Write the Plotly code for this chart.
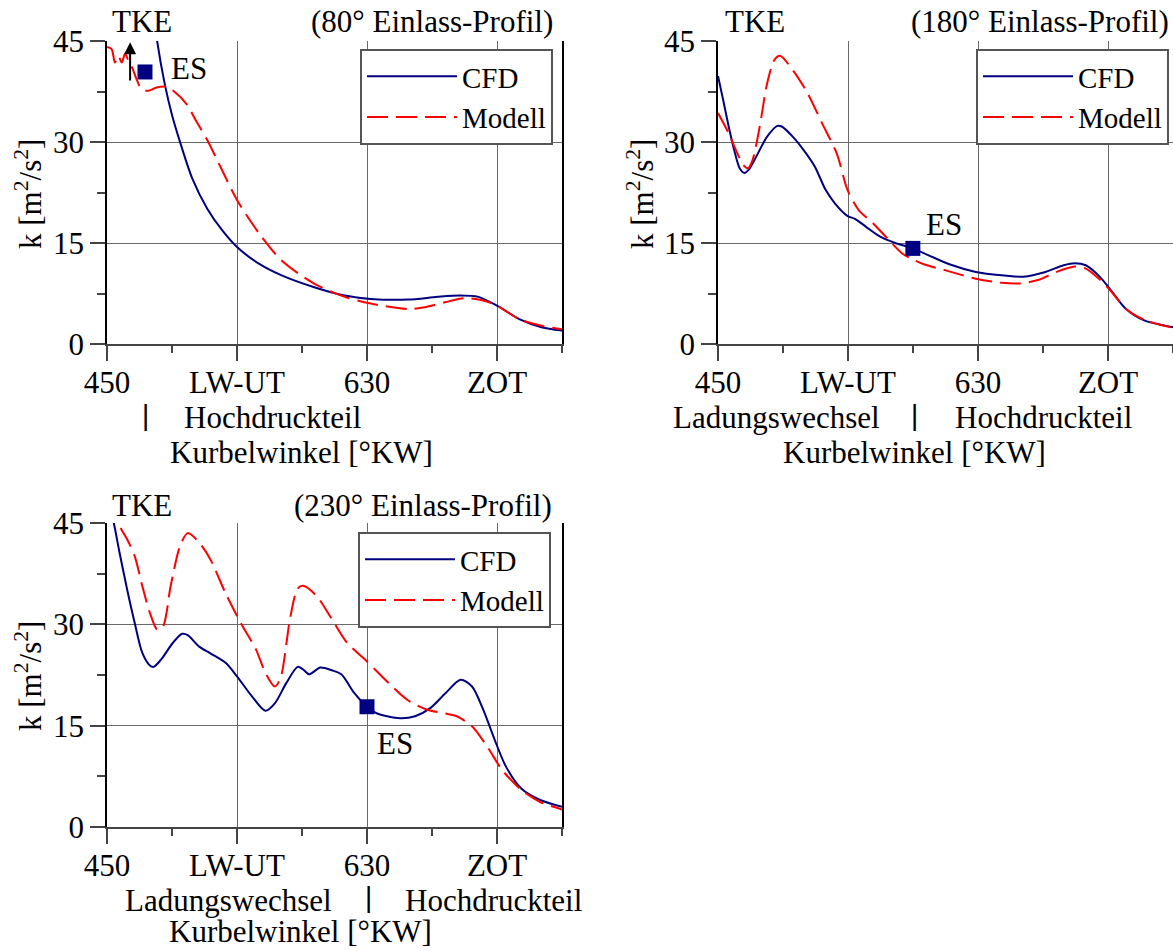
import plotly.graph_objects as go

W, H = 1173, 951
FONT = "Liberation Serif"
FS = 31

# ---------------- data ----------------
tick_vals = [450, 540, 630, 720]
tick_text = ["450", "LW-UT", "630", "ZOT"]
minor_x = [495, 585, 675, 765]
y_ticks = [0, 15, 30, 45]
minor_y = [7.5, 22.5, 37.5]

# Panel 1: 80° Einlass-Profil
cfd1_x = [478, 484.7, 489.9, 495, 500.7, 509, 519.4, 529.7, 540, 555.4, 570.9, 594, 614.6,
          632.6, 658.3, 678.8, 694.3, 707.1, 720, 735.4, 750.8, 765]
cfd1_y = [56, 45, 38.7, 34, 29.9, 24.6, 20.1, 16.9, 14.4, 11.9, 10.2, 8.4, 7.2,
          6.7, 6.6, 7.0, 7.2, 7.0, 5.7, 3.7, 2.5, 2.0]
mod1_x = [450, 453.2, 455.5, 457.8, 460.2, 462.5, 464.8, 467.5, 470.5, 474, 478.6, 484.4,
          491.3, 495.9, 505.2, 512, 519.4, 529.7, 540, 555.4, 570.9, 594, 614.6, 632.6,
          658.3, 671, 684, 696.9, 709.7, 720, 735.4, 750.8, 765]
mod1_y = [44.1, 43.8, 41.8, 42.8, 41.8, 43.1, 42.1, 41.0, 39.3, 37.8, 37.6, 38.1,
          38.2, 37.6, 35.6, 33.0, 30.3, 25.8, 21.4, 16.4, 12.4, 8.9, 7.0, 6.0,
          5.2, 5.5, 6.2, 6.8, 6.5, 5.7, 3.7, 2.7, 2.2]
es1 = (476.3, 40.4)
arrow1 = (466, 38.9, 44.8)  # x, from y, to y

# Panel 2: 180° Einlass-Profil
cfd2_x = [450, 453.5, 457.4, 461.2, 465, 468.3, 471.3, 476.4, 484, 491.1, 494.1, 501.7,
          509.3, 516.9, 524.5, 530.9, 539.8, 544.8, 552.5, 562.6, 572.7, 584.9, 595.5,
          610.7, 628.5, 646.2, 661.5, 676.7, 689.3, 697, 704.6, 714.7, 722.3, 732.5,
          745.1, 765]
cfd2_y = [39.8, 36.3, 32.3, 28.8, 26.1, 25.4, 25.9, 27.8, 30.8, 32.4, 32.3, 30.8,
          28.8, 26.4, 22.9, 20.9, 19.0, 18.6, 17.4, 15.9, 15.0, 14.2, 13.2,
          11.8, 10.7, 10.2, 10.0, 10.7, 11.7, 12.0, 11.7, 9.9, 7.9, 5.2,
          3.5, 2.5]
mod2_x = [450, 457.4, 462.4, 467.5, 470.8, 473.9, 478.9, 484, 489.1, 492.9, 501.7, 511.9,
          522, 532.2, 539.8, 547.4, 557.5, 567.6, 577.8, 585.4, 593, 608.2, 628.5,
          646.2, 658.9, 671.6, 684.3, 697, 704.6, 714.7, 722.3, 732.5, 745.1, 765]
mod2_y = [34.3, 31.3, 28.8, 26.6, 26.1, 27.3, 32.3, 38.7, 42.2, 42.8, 40.7, 37.3,
          32.8, 28.3, 22.8, 19.9, 17.9, 15.6, 13.4, 12.5, 11.8, 10.9, 9.7,
          9.1, 9.0, 9.5, 10.7, 11.5, 11.2, 9.5, 7.8, 5.2, 3.6, 2.4]
es2 = (584.9, 14.2)

# Panel 3: 230° Einlass-Profil
cfd3_x = [450, 454.7, 458.7, 463.9, 469.2, 474.4, 479.7, 482.3, 487.5, 495.4, 502, 505.9,
          513.8, 521.6, 532.1, 540, 550.5, 559.7, 566.2, 574.1, 582, 585.9, 589.9, 597.7,
          605.6, 612.2, 621.3, 630, 637.1, 652.8, 663.3, 673.8, 684.3, 694.8, 702.7,
          710.6, 718.4, 726.3, 736.8, 749.9, 765]
cfd3_y = [49, 45, 40.6, 35.2, 30.2, 25.8, 23.9, 23.7, 24.8, 27.2, 28.6, 28.4,
          26.7, 25.7, 24.3, 22.3, 19.3, 17.2, 18.3, 21.3, 23.7, 23.3, 22.6, 23.6,
          23.2, 22.6, 19.8, 17.8, 16.8, 16.1, 16.4, 17.6, 19.8, 21.8, 20.8,
          17.3, 12.9, 8.9, 5.7, 4.0, 3.0]
mod3_x = [450, 457.3, 463.9, 469.2, 474.4, 479.7, 484.9, 488.8, 494.1, 500.6, 505.9, 513.8,
          521.6, 532.1, 542.6, 553.1, 559.7, 566.2, 570.2, 576.7, 582, 585.9, 595.1,
          605.6, 616.1, 630, 645, 658.1, 671.2, 684.3, 692.2, 702.7, 713.2, 723.7,
          736.8, 749.9, 765]
mod3_y = [48, 45, 42.6, 40.1, 35.7, 31.7, 29.2, 29.7, 35.7, 41.6, 43.5, 42.1,
          39.6, 34.6, 30.2, 26.3, 22.8, 20.8, 22.1, 30.8, 35.3, 35.7, 34.2,
          30.8, 27.3, 24.5, 21.3, 18.8, 17.4, 16.8, 16.4, 14.9, 11.9, 8.4,
          5.5, 3.7, 2.6]
es3 = (630, 17.8)

titles = ["(80° Einlass-Profil)", "(180° Einlass-Profil)", "(230° Einlass-Profil)"]

# ---------------- styling ----------------
NAVY = "#000080"
RED = "#ff0000"
GRID = "#6a6a6a"


def px(x):
    return x / W


def py(y):
    return 1 - y / H


fig = go.Figure()

panels = [
    (cfd1_x, cfd1_y, mod1_x, mod1_y, es1, "x", "y", "legend"),
    (cfd2_x, cfd2_y, mod2_x, mod2_y, es2, "x2", "y2", "legend2"),
    (cfd3_x, cfd3_y, mod3_x, mod3_y, es3, "x3", "y3", "legend3"),
]

for cx, cy, mx, my, es, xa, ya, lg in panels:
    fig.add_trace(go.Scatter(x=cx, y=cy, mode="lines", name="CFD", xaxis=xa, yaxis=ya,
                             legend=lg, line=dict(color=NAVY, width=2, shape="spline",
                                                  smoothing=0.8)))
    fig.add_trace(go.Scatter(x=mx, y=my, mode="lines", name="Modell", xaxis=xa, yaxis=ya,
                             legend=lg, line=dict(color=RED, width=2, dash="21px,8px",
                                                  shape="spline", smoothing=0.8)))
    fig.add_trace(go.Scatter(x=[es[0]], y=[es[1]], mode="markers", showlegend=False,
                             xaxis=xa, yaxis=ya, cliponaxis=False,
                             marker=dict(symbol="square", size=15, color=NAVY)))

domains_x = [[107 / W, 562 / W], [718 / W, 1.0], [107 / W, 562 / W]]
domains_y = [[py(344), py(41)], [py(344), py(41)], [py(827), py(523)]]

tickfont = dict(family=FONT, size=FS, color="black")
for i in range(3):
    sfx = "" if i == 0 else str(i + 1)
    fig.layout["xaxis" + sfx] = dict(
        domain=domains_x[i], anchor="y" + sfx, range=[450, 765], automargin=False,
        tickvals=tick_vals, ticktext=tick_text, ticks="outside", ticklen=15,
        tickwidth=1.5, tickcolor="#444", tickfont=tickfont, ticklabelstandoff=-5,
        showgrid=True, gridcolor=GRID, gridwidth=1,
        showline=True, linecolor="#444", linewidth=2, zeroline=False,
        minor=dict(tickvals=minor_x, ticks="outside", ticklen=7, tickwidth=1.5,
                   tickcolor="#444", showgrid=False),
        fixedrange=True,
    )
    fig.layout["yaxis" + sfx] = dict(
        domain=domains_y[i], anchor="x" + sfx, range=[0, 45], automargin=False,
        tickvals=y_ticks, ticks="outside", ticklen=15, tickwidth=1.5,
        tickcolor="#444", tickfont=tickfont,
        showgrid=True, gridcolor=GRID, gridwidth=1,
        showline=True, linecolor="black", linewidth=1.5, mirror=True, zeroline=False,
        minor=dict(tickvals=minor_y, ticks="outside", ticklen=8, tickwidth=1.5,
                   tickcolor="#444", showgrid=False),
        fixedrange=True,
    )

leg_common = dict(font=dict(family=FONT, size=29, color="black"), bgcolor="white",
                  bordercolor="#555", borderwidth=2, xanchor="right", yanchor="top",
                  itemwidth=90, tracegroupgap=0)
fig.layout.legend = dict(x=px(553), y=py(49), **leg_common)
fig.layout.legend2 = dict(x=px(1169), y=py(49), **leg_common)
fig.layout.legend3 = dict(x=px(551), y=py(532), **leg_common)

annots = []


def txt(text, x, y, xanchor="left", size=FS, yanchor="middle", angle=0, height=None):
    a = dict(text=text, x=px(x), y=py(y), xref="paper", yref="paper",
             xanchor=xanchor, yanchor=yanchor, showarrow=False, textangle=angle,
             font=dict(family=FONT, size=size, color="black"))
    if height is not None:
        a["height"] = height
    annots.append(a)


# titles
txt("TKE", 110, 22)
txt(titles[0], 555, 22, xanchor="right")
txt("TKE", 723, 22)
txt(titles[1], 1171, 22, xanchor="right")
txt("TKE", 110, 505)
txt(titles[2], 554, 505, xanchor="right")

# y-axis titles
for yc in [194, 676]:
    txt("k [m<sup>2</sup>/s<sup>2</sup>]", 28, yc, xanchor="center", angle=-90)
txt("k [m<sup>2</sup>/s<sup>2</sup>]", 640, 194, xanchor="center", angle=-90)

# x-axis sub-labels
txt("<b>|</b>", 145, 417, xanchor="center", size=33, height=28)
txt("Hochdruckteil", 182, 418)
txt("Kurbelwinkel [°KW]", 301, 453, xanchor="center")

txt("Ladungswechsel", 671, 418)
txt("<b>|</b>", 914, 417, xanchor="center", size=33, height=28)
txt("Hochdruckteil", 953, 418)
txt("Kurbelwinkel [°KW]", 914, 453, xanchor="center")

txt("Ladungswechsel", 123, 900)
txt("<b>|</b>", 368, 899, xanchor="center", size=33, height=28)
txt("Hochdruckteil", 403, 900)
txt("Kurbelwinkel [°KW]", 300, 931, xanchor="center")

# ES labels (data coordinates)
annots.append(dict(text="ES", x=es1[0], y=es1[1], xref="x", yref="y", xanchor="left",
                   yanchor="middle", xshift=24, yshift=3, showarrow=False,
                   font=dict(family=FONT, size=FS, color="black")))
annots.append(dict(text="ES", x=es2[0], y=es2[1], xref="x2", yref="y2", xanchor="left",
                   yanchor="middle", xshift=11, yshift=24, showarrow=False,
                   font=dict(family=FONT, size=FS, color="black")))
annots.append(dict(text="ES", x=es3[0], y=es3[1], xref="x3", yref="y3", xanchor="left",
                   yanchor="middle", xshift=8, yshift=-37, showarrow=False,
                   font=dict(family=FONT, size=FS, color="black")))

# arrow in panel 1
annots.append(dict(text="", x=arrow1[0], y=arrow1[2], ax=arrow1[0], ay=arrow1[1],
                   xref="x", yref="y", axref="x", ayref="y", showarrow=True,
                   arrowhead=2, arrowsize=1.2, arrowwidth=2, arrowcolor="black"))

fig.update_layout(
    width=W, height=H, margin=dict(l=0, r=0, t=0, b=0, autoexpand=False),
    paper_bgcolor="white", plot_bgcolor="white",
    annotations=annots, showlegend=True,
    font=dict(family=FONT, size=FS, color="black"),
)

fig.write_html("out.html", config={"displayModeBar": False},
               post_script="document.body.style.margin='0px';")
